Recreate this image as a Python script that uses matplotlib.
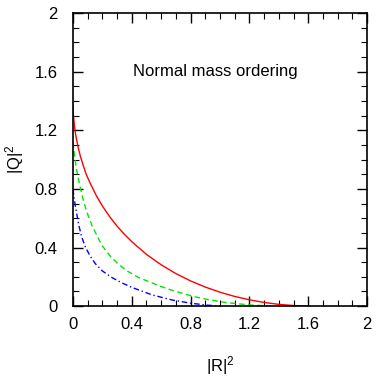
import matplotlib
matplotlib.use("Agg")
import matplotlib.pyplot as plt
from matplotlib.ticker import MultipleLocator

plt.rcParams['font.family'] = ['Liberation Sans', 'DejaVu Sans']
plt.rcParams['mathtext.fontset'] = 'custom'
plt.rcParams['mathtext.rm'] = 'Liberation Sans'
plt.rcParams['mathtext.it'] = 'Liberation Sans'

# Curve data (|R|^2, |Q|^2)
red_R = [0, 0.003, 0.01, 0.02, 0.035, 0.05, 0.07, 0.09, 0.12, 0.16, 0.2, 0.25, 0.3,
         0.35, 0.4, 0.5, 0.6, 0.7, 0.8, 0.9, 1.0, 1.1, 1.2, 1.3, 1.4, 1.5, 1.61]
red_Q = [1.37, 1.30, 1.23, 1.16, 1.085, 1.025, 0.96, 0.90, 0.833, 0.752, 0.684, 0.61, 0.546,
         0.49, 0.44, 0.353, 0.282, 0.222, 0.172, 0.130, 0.095, 0.066, 0.043, 0.025, 0.012, 0.004, 0.0]

green_R = [0, 0.01, 0.025, 0.045, 0.065, 0.09, 0.129, 0.197, 0.25, 0.3, 0.36, 0.447,
           0.583, 0.673, 0.818, 0.93, 1.046, 1.2, 1.35]
green_Q = [1.12, 1.03, 0.93, 0.83, 0.745, 0.655, 0.55, 0.415, 0.345, 0.295, 0.245, 0.195,
           0.14, 0.108, 0.066, 0.042, 0.024, 0.008, 0.0]

blue_R = [0, 0.006, 0.016, 0.039, 0.06, 0.084, 0.115, 0.152, 0.2, 0.265, 0.33, 0.40,
          0.537, 0.673, 0.80, 0.91, 1.0]
blue_Q = [0.80, 0.75, 0.685, 0.555, 0.47, 0.405, 0.345, 0.29, 0.24, 0.195, 0.16, 0.128,
          0.077, 0.042, 0.02, 0.007, 0.0]

ticks = [0, 0.4, 0.8, 1.2, 1.6, 2]
tick_labels = ['0', '0.4', '0.8', '1.2', '1.6', '2']

fig = plt.figure(figsize=(3.82, 3.77), dpi=100)
ax = fig.add_axes([0.191, 0.188, 0.770, 0.777])

ax.plot(red_R, red_Q, color='#ff0000', lw=1.0, ls='-')
ax.plot(green_R, green_Q, color='#00e600', lw=1.0, ls=(0, (4, 2.5)))
ax.plot(blue_R, blue_Q, color='#0000ff', lw=1.0, ls=(0, (4, 2, 1, 2)))

ax.set_xlim(0, 2)
ax.set_ylim(0, 2)
ax.set_xticks(ticks)
ax.set_xticklabels(tick_labels)
ax.set_yticks(ticks)
ax.set_yticklabels(tick_labels)
ax.xaxis.set_minor_locator(MultipleLocator(0.1))
ax.yaxis.set_minor_locator(MultipleLocator(0.1))
ax.tick_params(which='both', direction='in', top=True, right=True, labelsize=12, colors='black')
ax.tick_params(which='major', length=7, width=1.0)
ax.tick_params(which='minor', length=4, width=0.8)
ax.tick_params(axis='x', which='major', pad=8)
ax.tick_params(axis='y', which='major', pad=11)
for s in ax.spines.values():
    s.set_linewidth(1.2)

ax.set_xlabel('|R|$^2$', fontsize=12)
ax.set_ylabel('|Q|$^2$', fontsize=12)
ax.xaxis.set_label_coords(0.5, -0.165)
ax.yaxis.set_label_coords(-0.16, 0.5)

ax.text(0.97, 1.6, 'Normal mass ordering', fontsize=12, ha='center', va='center')

fig.savefig('out.png', dpi=100)
